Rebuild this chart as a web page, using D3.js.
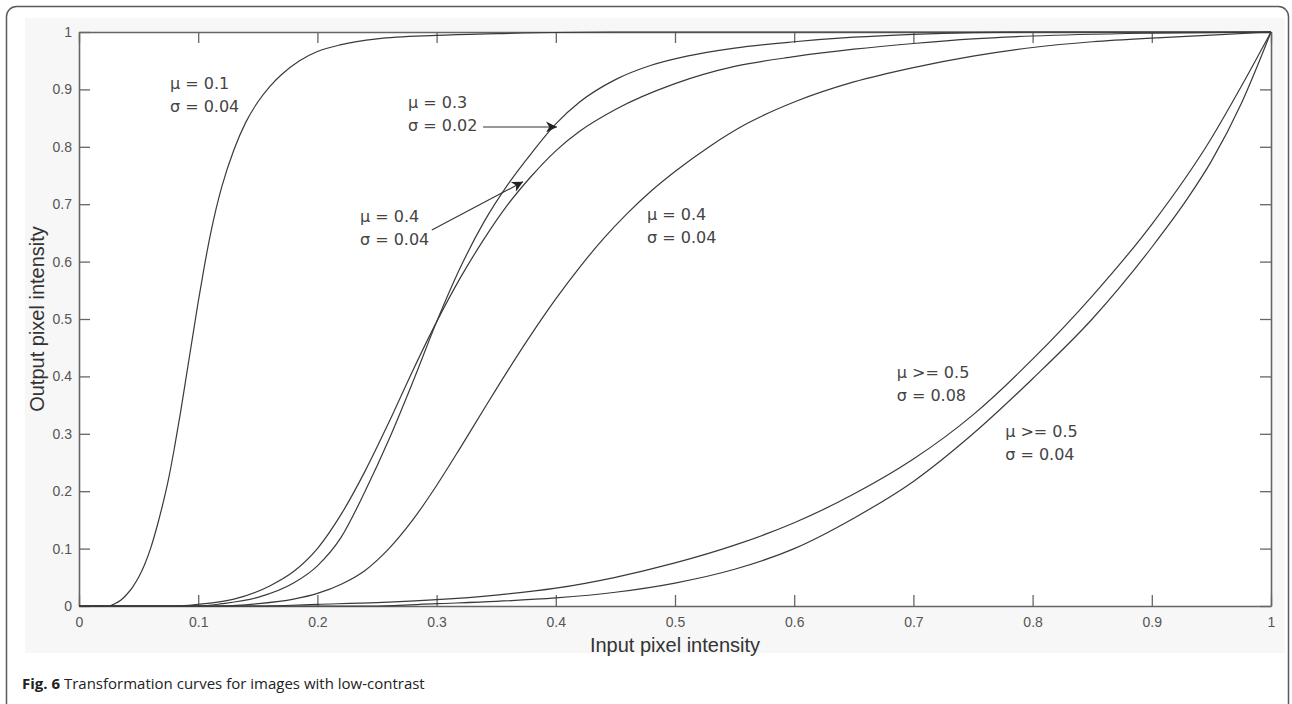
<!DOCTYPE html>
<html>
<head>
<meta charset="utf-8">
<script src="https://cdn.jsdelivr.net/npm/d3@7"></script>
<style>
  body { margin: 0; background: #fff; }
  svg { display: block; }
</style>
</head>
<body>
<script>
// tick values
var xTicks = [0, 0.1, 0.2, 0.3, 0.4, 0.5, 0.6, 0.7, 0.8, 0.9, 1];
var yTicks = [0, 0.1, 0.2, 0.3, 0.4, 0.5, 0.6, 0.7, 0.8, 0.9, 1];

// curves, [input, output]
var curveMu01 = [[0,0],[0.025,0],[0.03,0.004],[0.035,0.01],[0.04,0.02],[0.045,0.033],[0.05,0.05],[0.055,0.072],
  [0.06,0.1],[0.065,0.135],[0.07,0.175],[0.075,0.22],[0.08,0.275],[0.085,0.335],[0.09,0.4],[0.095,0.465],
  [0.1,0.53],[0.105,0.59],[0.11,0.645],[0.115,0.692],[0.12,0.732],[0.13,0.795],[0.14,0.843],[0.15,0.878],
  [0.16,0.905],[0.17,0.926],[0.185,0.95],[0.2,0.966],[0.22,0.978],[0.25,0.988],[0.3,0.994],[0.35,0.997],
  [0.45,1],[1,1]];

var curveMu03 = [[0,0],[0.1,0],[0.12,0.004],[0.15,0.015],[0.18,0.04],[0.2,0.07],[0.22,0.12],[0.24,0.2],
  [0.26,0.29],[0.28,0.39],[0.3,0.495],[0.32,0.59],[0.34,0.67],[0.36,0.735],[0.38,0.79],[0.4,0.84],
  [0.42,0.878],[0.45,0.917],[0.48,0.942],[0.51,0.958],[0.55,0.972],[0.6,0.983],[0.65,0.991],[0.7,0.996],
  [0.75,0.999],[0.8,1],[1,1]];

var curveMu04a = [[0,0],[0.08,0],[0.1,0.003],[0.13,0.012],[0.16,0.035],[0.18,0.06],[0.2,0.1],[0.22,0.16],
  [0.24,0.235],[0.26,0.32],[0.28,0.41],[0.3,0.495],[0.32,0.572],[0.34,0.64],[0.36,0.7],[0.38,0.75],
  [0.4,0.793],[0.42,0.827],[0.45,0.865],[0.5,0.91],[0.55,0.94],[0.6,0.957],[0.65,0.97],[0.7,0.98],
  [0.75,0.988],[0.8,0.993],[0.9,0.998],[1,1]];

var curveMu04b = [[0,0],[0.12,0],[0.15,0.004],[0.18,0.012],[0.2,0.022],[0.22,0.038],[0.24,0.062],[0.26,0.1],
  [0.28,0.15],[0.3,0.21],[0.32,0.276],[0.34,0.344],[0.36,0.411],[0.38,0.475],[0.4,0.535],[0.42,0.59],
  [0.44,0.64],[0.46,0.684],[0.48,0.723],[0.5,0.757],[0.53,0.802],[0.56,0.84],[0.6,0.878],[0.65,0.913],
  [0.7,0.938],[0.75,0.958],[0.8,0.973],[0.85,0.983],[0.9,0.9895],[0.95,0.9945],[1,1]];

var curveMu05s08 = [[0,0],[0.15,0],[0.2,0.003],[0.25,0.006],[0.3,0.011],[0.35,0.019],[0.4,0.031],[0.45,0.05],
  [0.5,0.075],[0.55,0.106],[0.6,0.145],[0.65,0.195],[0.7,0.256],[0.75,0.333],[0.8,0.43],[0.85,0.54],
  [0.9,0.665],[0.95,0.815],[0.975,0.905],[1,1]];

var curveMu05s04 = [[0,0],[0.25,0],[0.3,0.004],[0.35,0.008],[0.4,0.014],[0.45,0.024],[0.5,0.04],[0.55,0.064],
  [0.6,0.1],[0.65,0.153],[0.7,0.217],[0.75,0.3],[0.8,0.396],[0.85,0.5],[0.9,0.625],[0.93,0.71],
  [0.95,0.775],[0.975,0.875],[1,1]];

var curves = [curveMu01, curveMu03, curveMu04a, curveMu04b, curveMu05s08, curveMu05s04];

// annotation text, anchored in data units
var labelLines = [
  ["\u03bc = 0.1", "\u03c3 = 0.04"],
  ["\u03bc = 0.3", "\u03c3 = 0.02"],
  ["\u03bc = 0.4", "\u03c3 = 0.04"],
  ["\u03bc = 0.4", "\u03c3 = 0.04"],
  ["\u03bc >= 0.5", "\u03c3 = 0.08"],
  ["\u03bc >= 0.5", "\u03c3 = 0.04"]
];
var labelAt = [[0.0763, 0.90], [0.276, 0.868], [0.2357, 0.669], [0.4765, 0.672], [0.686, 0.397], [0.777, 0.294]];

// arrows: [from, to]
var arrows = [
  [[0.339, 0.8345], [0.401, 0.8345]],
  [[0.296, 0.655], [0.3725, 0.739]]
];

var captionBold = "Fig. 6";
var captionText = " Transformation curves for images with low-contrast";

var width = 1292, height = 704;

var svg = d3.select("body").append("svg")
  .attr("width", width)
  .attr("height", height);

// card frame
svg.append("rect")
  .attr("x", 6.5).attr("y", 6.5)
  .attr("width", 1282).attr("height", 740)
  .attr("rx", 10).attr("ry", 10)
  .attr("fill", "#fff")
  .attr("stroke", "#5a5a5a")
  .attr("stroke-width", 1.5);

// figure background
svg.append("rect")
  .attr("x", 25).attr("y", 18)
  .attr("width", 1260).attr("height", 635)
  .attr("fill", "#f7f7f7");

var x = d3.scaleLinear().domain([0, 1]).range([79, 1271]);
var y = d3.scaleLinear().domain([0, 1]).range([606, 32]);

svg.append("rect")
  .attr("x", x(0)).attr("y", y(1))
  .attr("width", x(1) - x(0)).attr("height", y(0) - y(1))
  .attr("fill", "#fff");

var g = svg.append("g");

// axes with inward ticks, MATLAB style box
var fmt = function(d) { return d === 0 ? "0" : d === 1 ? "1" : d3.format(".1f")(d); };

var axBottom = g.append("g")
  .attr("transform", "translate(0," + y(0) + ")")
  .call(d3.axisBottom(x).tickValues(xTicks).tickSizeInner(-11).tickSizeOuter(0).tickPadding(8).tickFormat(fmt));
var axLeft = g.append("g")
  .attr("transform", "translate(" + x(0) + ",0)")
  .call(d3.axisLeft(y).tickValues(yTicks).tickSizeInner(-11).tickSizeOuter(0).tickPadding(7).tickFormat(fmt));
var axTop = g.append("g")
  .attr("transform", "translate(0," + y(1) + ")")
  .call(d3.axisTop(x).tickValues(xTicks).tickSizeInner(-11).tickSizeOuter(0).tickFormat(""));
var axRight = g.append("g")
  .attr("transform", "translate(" + x(1) + ",0)")
  .call(d3.axisRight(y).tickValues(yTicks).tickSizeInner(-11).tickSizeOuter(0).tickFormat(""));

[axBottom, axLeft, axTop, axRight].forEach(function(a) {
  a.select(".domain").attr("stroke", "#666").attr("stroke-width", 1.6);
  a.selectAll(".tick line").attr("stroke", "#666").attr("stroke-width", 1.3);
  a.selectAll(".tick text")
    .attr("fill", "#555")
    .style("font-family", "'Liberation Sans', Arial, sans-serif")
    .style("font-size", "14px");
});
axBottom.selectAll(".tick text").attr("dy", "0.9em");

// curves
var line = d3.line()
  .x(function(d) { return x(d[0]); })
  .y(function(d) { return y(d[1]); })
  .curve(d3.curveMonotoneX);

g.selectAll(".curve")
  .data(curves)
  .enter().append("path")
  .attr("class", "curve")
  .attr("fill", "none")
  .attr("stroke", "#3a3a3a")
  .attr("stroke-width", 1.2)
  .attr("d", line);

// arrowhead
svg.append("defs").append("marker")
  .attr("id", "head")
  .attr("viewBox", "0 0 10 10")
  .attr("refX", 10).attr("refY", 5)
  .attr("markerWidth", 18).attr("markerHeight", 11)
  .attr("markerUnits", "userSpaceOnUse")
  .attr("orient", "auto")
  .append("path")
  .attr("d", "M0,0L10,5L0,10L3,5Z")
  .attr("fill", "#222");

g.selectAll(".arrow")
  .data(arrows)
  .enter().append("line")
  .attr("class", "arrow")
  .attr("x1", function(d) { return x(d[0][0]); })
  .attr("y1", function(d) { return y(d[0][1]); })
  .attr("x2", function(d) { return x(d[1][0]); })
  .attr("y2", function(d) { return y(d[1][1]); })
  .attr("stroke", "#333")
  .attr("stroke-width", 1.1)
  .attr("marker-end", "url(#head)");

// curve labels
var labels = g.selectAll(".lbl")
  .data(labelLines)
  .enter().append("text")
  .attr("class", "lbl")
  .attr("x", function(d, i) { return x(labelAt[i][0]); })
  .attr("y", function(d, i) { return y(labelAt[i][1]); })
  .attr("fill", "#444")
  .style("font-family", "'DejaVu Sans', sans-serif")
  .style("font-size", "16px");

labels.selectAll("tspan")
  .data(function(d) { return d; })
  .enter().append("tspan")
  .attr("x", function() { return d3.select(this.parentNode).attr("x"); })
  .attr("dy", function(d, i) { return i === 0 ? 0 : 23; })
  .text(function(d) { return d; });

// axis titles
svg.append("text")
  .attr("x", (x(0) + x(1)) / 2)
  .attr("y", 652)
  .attr("text-anchor", "middle")
  .attr("fill", "#333")
  .style("font-family", "'Liberation Sans', Arial, sans-serif")
  .style("font-size", "20px")
  .text("Input pixel intensity");

svg.append("text")
  .attr("transform", "translate(44," + ((y(0) + y(1)) / 2) + ") rotate(-90)")
  .attr("text-anchor", "middle")
  .attr("fill", "#333")
  .style("font-family", "'Liberation Sans', Arial, sans-serif")
  .style("font-size", "20px")
  .text("Output pixel intensity");

// caption
var cap = svg.append("text")
  .attr("x", 22)
  .attr("y", 689)
  .attr("fill", "#222")
  .style("font-family", "'Open Sans', 'Noto Sans', sans-serif")
  .style("font-size", "15px");
cap.append("tspan").style("font-weight", "bold").text(captionBold);
cap.append("tspan").text(captionText);
</script>
</body>
</html>
